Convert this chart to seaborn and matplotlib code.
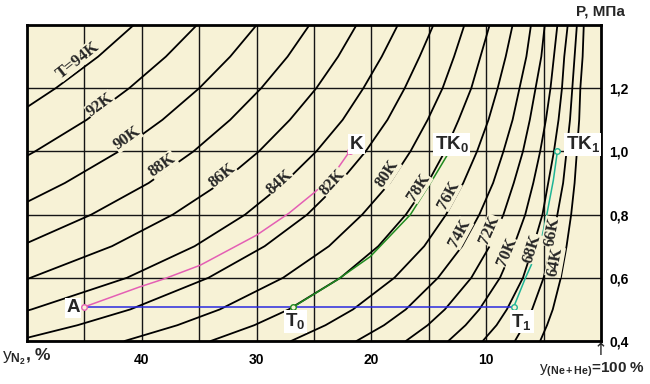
import numpy as np
import pandas as pd
import matplotlib
matplotlib.use("Agg")
import matplotlib.pyplot as plt
import seaborn as sns

# ---------------- data ----------------
P_LEVELS = [0.40, 0.45, 0.50, 0.60, 0.70, 0.80, 0.90, 1.00, 1.10, 1.20, 1.30, 1.40]
N = None
ISO_NAMES = ["T=94K", "92K", "90K", "88K", "86K", "84K", "82K", "80K",
             "78K", "76K", "74K", "72K", "70K", "68K", "66K", "64K"]
# y_N2 (%) of every isotherm at P_LEVELS (None: beyond the 50 % edge)
ISO_94 = [N, N, N, N, N, N, N, N, N, 47.5, 43.8, 40.7]
ISO_92 = [N, N, N, N, N, N, N, 49.3, 44.8, 41.1, 37.9, 35.2]
ISO_90 = [N, N, N, N, N, N, 46.7, 42.0, 38.2, 35.0, 32.3, 30.0]
ISO_88 = [N, N, N, N, N, 44.4, 39.4, 35.5, 32.3, 29.6, 27.3, 25.4]
ISO_86 = [N, N, N, 49.7, 42.6, 37.3, 33.1, 29.8, 27.1, 24.8, 22.9, 21.3]
ISO_84 = [N, N, 49.6, 41.3, 35.4, 31.0, 27.6, 24.8, 22.5, 20.7, 19.1, 17.7]
ISO_82 = [N, 45.6, 41.0, 34.2, 29.3, 25.6, 22.8, 20.5, 18.6, 17.1, 15.8, 14.6]
ISO_80 = [41.5, 36.9, 33.2, 27.7, 23.7, 20.8, 18.4, 16.6, 15.1, 13.8, 12.8, 11.9]
ISO_78 = [34.0, 30.2, 27.2, 22.7, 19.4, 17.0, 15.1, 13.6, 12.4, 11.3, 10.5, 9.7]
ISO_76 = [27.0, 24.0, 21.6, 18.0, 15.4, 13.5, 12.0, 10.8, 9.8, 9.0, 8.3, 7.7]
ISO_74 = [21.3, 18.9, 17.0, 14.2, 12.1, 10.6, 9.4, 8.5, 7.7, 7.1, 6.5, 6.1]
ISO_72 = [17.0, 15.1, 13.6, 11.3, 9.7, 8.5, 7.6, 6.8, 6.2, 5.7, 5.2, 4.9]
ISO_70 = [13.3, 11.8, 10.6, 8.8, 7.6, 6.6, 5.9, 5.3, 4.8, 4.4, 4.1, 3.8]
ISO_68 = [10.3, 9.1, 8.2, 6.8, 5.9, 5.1, 4.6, 4.1, 3.7, 3.4, 3.2, 2.9]
ISO_66 = [7.5, 6.7, 6.0, 5.0, 4.3, 3.8, 3.3, 3.0, 2.7, 2.5, 2.3, 2.1]
ISO_64 = [5.3, 4.7, 4.2, 3.5, 3.0, 2.6, 2.3, 2.1, 1.9, 1.8, 1.6, 1.5]
ISO_Y = [ISO_94, ISO_92, ISO_90, ISO_88, ISO_86, ISO_84, ISO_82, ISO_80,
         ISO_78, ISO_76, ISO_74, ISO_72, ISO_70, ISO_68, ISO_66, ISO_64]
# pressure where an isotherm meets the y_N2 = 50 % edge
ISO_EDGE_P = [1.14, 0.986, 0.84, 0.71, 0.596, 0.496, 0.41, N, N, N, N, N, N, N, N, N]

# process paths
PINK_Y = [45.0, 40.2, 38.1, 34.9, 30.0, 27.2, 24.9, 23.3, 21.9]
PINK_P = [0.508, 0.571, 0.596, 0.640, 0.735, 0.804, 0.872, 0.927, 1.0]
GREEN_Y = [26.8, 23.0, 20.1, 16.6, 14.6, 13.2]
GREEN_P = [0.508, 0.593, 0.667, 0.800, 0.915, 1.0]
TEAL_Y = [7.6, 6.6, 5.3, 4.7, 4.15, 3.8]
TEAL_P = [0.508, 0.598, 0.703, 0.804, 0.909, 1.0]
BLUE_Y = [45.0, 7.6]
BLUE_P = [0.508, 0.508]

POINT_NAMES = ["A", "K", r"T$\mathbf{_0}$", r"TK$\mathbf{_0}$", r"T$\mathbf{_1}$", r"TK$\mathbf{_1}$"]

X_TICKS = [5, 10, 15, 20, 25, 30, 35, 40, 45]
X_TICK_LABELS = ["", "10", "", "20", "", "30", "", "40", ""]
Y_TICKS = [0.4, 0.6, 0.8, 1.0, 1.2]
Y_TICK_LABELS = ["0,4", "0,6", "0,8", "1,0", "1,2"]

# ---------------- layout / style ----------------
LABEL_POS = [(45.6, 1.289), (43.6, 1.147), (41.3, 1.042), (38.2, 0.957), (33.0, 0.925),
             (28.0, 0.903), (23.4, 0.903), (18.6, 0.931), (15.9, 0.887), (13.3, 0.862),
             (12.3, 0.741), (9.7, 0.751), (8.2, 0.682), (6.0, 0.693), (4.3, 0.746), (4.0, 0.651)]
POINT_LABEL_POS = [(46.0, 0.505), (21.3, 1.023), (26.6, 0.463), (13.0, 1.023), (6.9, 0.461), (1.6, 1.023)]

sns.set_theme(style="white")
plt.rcParams["font.family"] = ["Liberation Sans", "DejaVu Sans"]
plt.rcParams["mathtext.fontset"] = "custom"
plt.rcParams["mathtext.rm"] = "Liberation Sans"
plt.rcParams["mathtext.bf"] = "Liberation Sans:bold"
plt.rcParams["mathtext.it"] = "Liberation Sans:italic"

BG = "#F7F2D6"
fig = plt.figure(figsize=(6.5, 3.84), dpi=100, facecolor="white")
ax = fig.add_axes([27 / 650, 1 - 341 / 384, 574 / 650, 316 / 384])
ax.set_facecolor(BG)

# build long table of isotherms
rows = []
for name, ys, pe in zip(ISO_NAMES, ISO_Y, ISO_EDGE_P):
    if pe is not None:
        rows.append((name, 50.0, pe))
    for p, y in zip(P_LEVELS, ys):
        if y is not None:
            rows.append((name, y, p))
iso_df = pd.DataFrame(rows, columns=["curve", "y", "P"])

sns.lineplot(data=iso_df, x="y", y="P", units="curve", estimator=None, sort=False,
             color="black", lw=1.3, ax=ax, zorder=3)

def path_df(ys, ps):
    return pd.DataFrame({"y": ys, "P": ps})

sns.lineplot(data=path_df(BLUE_Y, BLUE_P), x="y", y="P", sort=False, estimator=None,
             color="#2a2ae0", lw=1.1, ax=ax, zorder=4)
sns.lineplot(data=path_df(PINK_Y, PINK_P), x="y", y="P", sort=False, estimator=None,
             color="#e45fb4", lw=1.1, ax=ax, zorder=4)
sns.lineplot(data=path_df(GREEN_Y, GREEN_P), x="y", y="P", sort=False, estimator=None,
             color="#1f8a1f", lw=1.1, ax=ax, zorder=4)
sns.lineplot(data=path_df(TEAL_Y, TEAL_P), x="y", y="P", sort=False, estimator=None,
             color="#1fb596", lw=1.1, ax=ax, zorder=4)

# end points
pts = [(PINK_Y[0], PINK_P[0], "#e45fb4"), (PINK_Y[-1], PINK_P[-1], "#e45fb4"),
       (GREEN_Y[0], GREEN_P[0], "#1f8a1f"), (GREEN_Y[-1], GREEN_P[-1], "#1f8a1f"),
       (TEAL_Y[0], TEAL_P[0], "#1fb596"), (TEAL_Y[-1], TEAL_P[-1], "#1fb596")]
for x, y, c in pts:
    ax.plot([x], [y], marker="o", ms=4, mfc=BG, mec=c, mew=1.0, zorder=6)

ax.set_xlim(50, 0)
ax.set_ylim(0.4, 1.4)
ax.set_xticks(X_TICKS)
ax.set_xticklabels(X_TICK_LABELS)
ax.set_yticks(Y_TICKS)
ax.set_yticklabels(Y_TICK_LABELS)
ax.yaxis.tick_right()
ax.tick_params(length=0, labelsize=10, colors="black")
ax.tick_params(axis="x", pad=9)
ax.tick_params(axis="y", pad=6)
for lab in ax.get_xticklabels() + ax.get_yticklabels():
    lab.set_fontweight("bold")
ax.grid(True, color="#151515", lw=1.0, zorder=1)
ax.set_axisbelow(True)
for s in ax.spines.values():
    s.set_visible(True)
    s.set_color("black")
    s.set_linewidth(2.0)
ax.set_xlabel("")
ax.set_ylabel("")

# isotherm labels rotated along the curves
fig.canvas.draw()
for name, ys, pe, (lx, lp) in zip(ISO_NAMES, ISO_Y, ISO_EDGE_P, LABEL_POS):
    cp = ([pe] if pe is not None else []) + [p for p, y in zip(P_LEVELS, ys) if y is not None]
    cy = ([50.0] if pe is not None else []) + [y for y in ys if y is not None]
    p1, p2 = lp - 0.03, lp + 0.03
    a = ax.transData.transform((np.interp(p1, cp, cy), p1))
    b = ax.transData.transform((np.interp(p2, cp, cy), p2))
    ang = np.degrees(np.arctan2(b[1] - a[1], b[0] - a[0]))
    ax.text(lx, lp, name, rotation=ang, rotation_mode="anchor", ha="center", va="center",
            fontsize=12, fontweight="bold", family=["Liberation Serif", "DejaVu Serif"],
            zorder=7, bbox=dict(boxstyle="square,pad=0.02", fc=BG, ec="none"))

for name, (px, pp) in zip(POINT_NAMES, POINT_LABEL_POS):
    ax.text(px, pp, name, ha="center", va="center", fontsize=13.5, fontweight="bold",
            zorder=8, bbox=dict(boxstyle="square,pad=0.08", fc="white", ec="none"))

# axis captions
fig.text(600 / 650, 1 - 12 / 384, "P, МПа", ha="center", va="center",
         fontsize=11, fontweight="bold")
fig.text(2 / 650, 1 - 357 / 384, r"$\mathrm{y}_{\mathbf{N_2}}$, %", ha="left", va="center",
         fontsize=12.5, fontweight="bold")
fig.text(645 / 650, 1 - 370 / 384, r"$\mathrm{y}_{\mathbf{(Ne+He)}}$=100 %", ha="right",
         va="center", fontsize=11, fontweight="bold")
fig.text(601 / 650, 1 - 350 / 384, "↑", ha="center", va="center", fontsize=12,
         family=["DejaVu Sans"])

fig.savefig("out.png", dpi=100, facecolor="white")
